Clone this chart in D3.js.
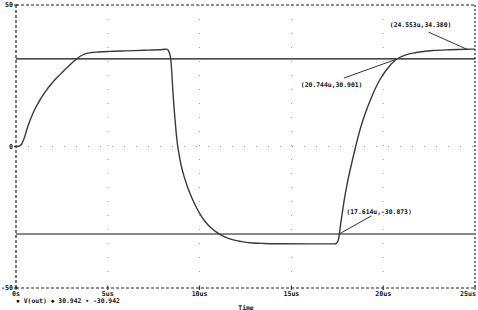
<!DOCTYPE html>
<html><head><meta charset="utf-8">
<script src="https://cdn.jsdelivr.net/npm/d3@7"></script>
<style>body{margin:0;background:#fff}svg{display:block}text{font-family:"DejaVu Sans Mono",monospace;font-weight:bold;fill:#111}</style>
</head><body><svg id="c" width="478" height="310"></svg>
<script>
const timeUs = [0,0.15,0.3,0.45,0.6,0.8,1.0,1.3,1.6,2.0,2.4,2.8,3.2,3.5,3.8,4.1,4.5,5.1,6.0,7.0,8.0,8.2,8.28,8.35,8.4,8.45,8.5,8.57,8.65,8.72,8.8,8.9,9.0,9.11,9.3,9.5,9.75,10.0,10.29,10.6,11.0,11.4,11.84,12.3,12.75,13.5,14.5,16.0,17.35,17.45,17.52,17.58,17.614,17.7,17.8,17.92,18.1,18.28,18.5,18.74,19.0,19.37,19.8,20.2,20.744,21.2,21.8,22.7,23.6,24.553,25];
const vout   = [0,0.1,0.8,3.0,6.2,9.8,12.8,16.4,19.4,22.7,25.4,28.0,30.4,31.9,32.8,33.2,33.4,33.6,33.8,34.0,34.3,34.4,34.1,33.2,32.0,29.5,24.5,17.0,10.5,5.2,0.5,-3.5,-6.8,-9.6,-13.5,-17.0,-20.6,-23.6,-26.4,-28.6,-30.6,-32.0,-33.0,-33.6,-34.0,-34.25,-34.35,-34.4,-34.4,-34.2,-33.6,-32.4,-30.873,-26.6,-22.2,-17.3,-11.2,-6.0,0,6.0,11.3,17.5,23.4,27.3,30.901,32.3,33.2,33.9,34.2,34.38,34.4];
const levelHi = 30.942, levelLo = -30.942;
const xTicks = [0,5,10,15,20,25];
const xTickLabels = ["0s","5us","10us","15us","20us","25us"];
const yTicks = [50,0,-50];
const markers = [
  {t:24.553, v:34.380, label:"(24.553u,34.380)"},
  {t:20.744, v:30.901, label:"(20.744u,30.901)"},
  {t:17.614, v:-30.873, label:"(17.614u,-30.873)"}
];
const labelOffsets = [[-38,-17,-77,-22],[-53,19,-96,28],[32,-18,7,-20]];

const svg = d3.select("#c");
const x = d3.scaleLinear().domain([0,25]).range([16,475]);
const y = d3.scaleLinear().domain([-50,50]).range([288,5]);

// grid
const g = svg.append("g").attr("stroke","#999").attr("stroke-width",1);
[5,10,15,20].forEach(t=>g.append("line").attr("x1",x(t)).attr("x2",x(t)).attr("y1",y(50)).attr("y2",y(-50)).attr("stroke-dasharray","1,13"));
g.append("line").attr("x1",x(0)).attr("x2",x(25)).attr("y1",y(0)).attr("y2",y(0)).attr("stroke-dasharray","1,11");

// frame
const f = svg.append("g").attr("stroke","#222").attr("stroke-width",1.2).attr("fill","none");
f.append("line").attr("x1",x(0)).attr("x2",x(25)).attr("y1",y(50)).attr("y2",y(50)).attr("stroke-dasharray","3,2");
f.append("line").attr("x1",x(0)).attr("x2",x(25)).attr("y1",y(-50)).attr("y2",y(-50)).attr("stroke-dasharray","3,2");
f.append("line").attr("x1",x(0)).attr("x2",x(0)).attr("y1",y(50)).attr("y2",y(-50)).attr("stroke-dasharray","3,2");
f.append("line").attr("x1",x(25)).attr("x2",x(25)).attr("y1",y(50)).attr("y2",y(-50)).attr("stroke-dasharray","2,2");

// y tick labels
yTicks.forEach(v=>{
  svg.append("text").attr("x",x(0)-3).attr("y",y(v)+2.3).attr("text-anchor","end").attr("font-size",6.6).text(v);
  svg.append("line").attr("x1",x(0)-2).attr("x2",x(0)+2).attr("y1",y(v)).attr("y2",y(v)).attr("stroke","#222");
});
// x tick labels
xTicks.forEach((t,i)=>{
  const last = i===xTicks.length-1;
  svg.append("text").attr("x",last? x(t)+1 : x(t)).attr("y",295.5).attr("text-anchor",last?"end":"middle").attr("font-size",6.6).text(xTickLabels[i]);
  svg.append("line").attr("x1",x(t)).attr("x2",x(t)).attr("y1",y(-50)-2).attr("y2",y(-50)+2).attr("stroke","#222");
});

// level lines
svg.append("line").attr("x1",x(0)).attr("x2",x(25)).attr("y1",y(levelHi)).attr("y2",y(levelHi)).attr("stroke","#111").attr("stroke-width",1.2);
svg.append("line").attr("x1",x(0)).attr("x2",x(25)).attr("y1",y(levelLo)).attr("y2",y(levelLo)).attr("stroke","#888").attr("stroke-width",2);

// curve
const line = d3.line().x((d,i)=>x(timeUs[i])).y(d=>y(d)).curve(d3.curveMonotoneX);
svg.append("path").attr("d",line(vout)).attr("fill","none").attr("stroke","#3a3a3a").attr("stroke-width",1.4);

// markers
markers.forEach((m,i)=>{
  const [dx,dy,tx,ty] = labelOffsets[i];
  const px = x(m.t), py = y(m.v);
  svg.append("line").attr("x1",px).attr("y1",py).attr("x2",px+dx).attr("y2",py+dy).attr("stroke","#333").attr("stroke-width",1);
  svg.append("text").attr("x",px+tx).attr("y",py+ty).attr("font-size",6.4).text(m.label);
});

// legend and axis title
svg.append("text").attr("x",16).attr("y",303).attr("font-size",6.4).attr("xml:space","preserve").text("\u25AA V(out) \u25C6 30.942 \u25BE -30.942");
svg.append("text").attr("x",246).attr("y",309.5).attr("text-anchor","middle").attr("font-size",6.4).text("Time");
</script></body></html>
